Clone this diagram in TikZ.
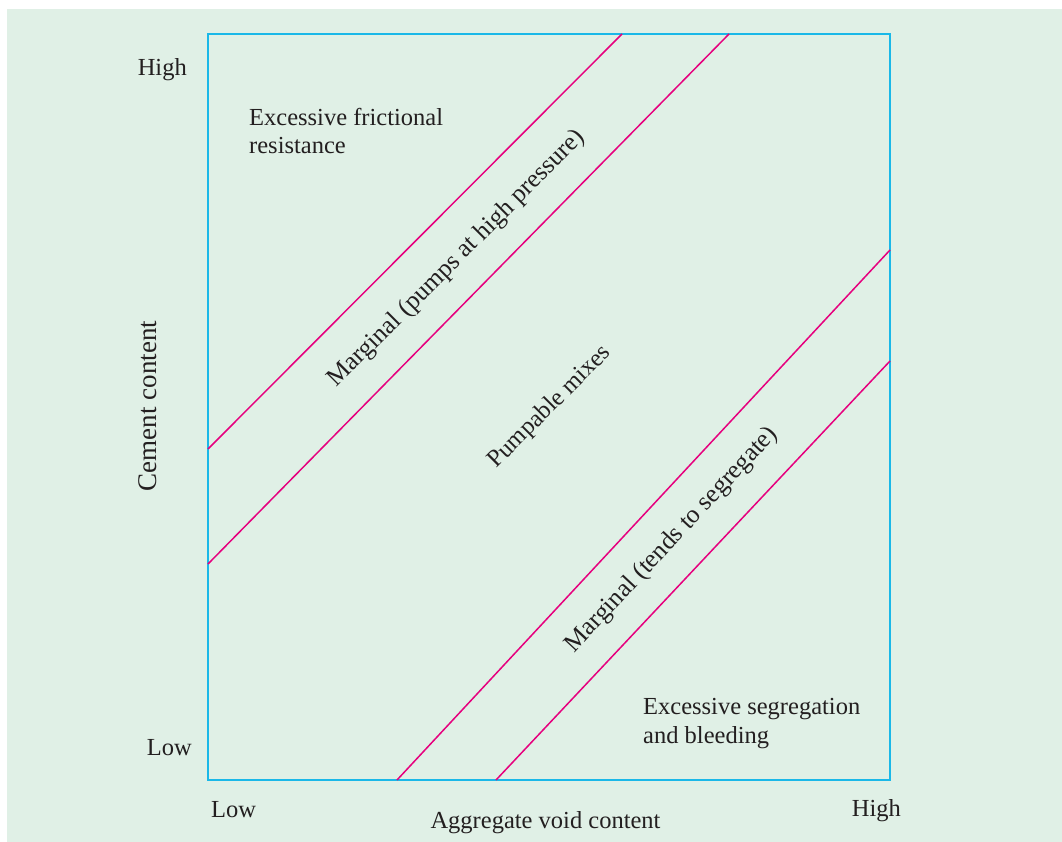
\documentclass[tikz,border=0pt]{standalone}
\usepackage{fontspec}
\setmainfont{Liberation Serif}
\definecolor{panel}{HTML}{E0F0E6}
\definecolor{frameblue}{HTML}{1AB8E8}
\definecolor{bandline}{HTML}{E6007E}
\definecolor{ink}{HTML}{231F20}
\begin{document}
\begin{tikzpicture}[x=1pt,y=-1pt,
  lbl/.style={inner sep=0pt,text=ink,font=\fontsize{24.5}{28.5}\selectfont},
  biglbl/.style={lbl,font=\fontsize{25.5}{29}\selectfont},
  boundary/.style={draw=bandline,line width=1.5pt},
  axisframe/.style={draw=frameblue,line width=2pt}]
\useasboundingbox (0,0) rectangle (1062,842);
\fill[panel] (7,9) rectangle (1062,842);
% plot frame
\draw[axisframe] (208,34) rectangle (890,780);
% band boundaries
\coordinate (a1) at (208,449); \coordinate (a2) at (622,34);
\coordinate (b1) at (208,564); \coordinate (b2) at (729,34);
\coordinate (c1) at (397,780); \coordinate (c2) at (890,250);
\coordinate (d1) at (496,780); \coordinate (d2) at (890,361);
\draw[boundary] (a1) -- (a2);
\draw[boundary] (b1) -- (b2);
\draw[boundary] (c1) -- (c2);
\draw[boundary] (d1) -- (d2);
% axis labels
\node[lbl,anchor=base east] (yhigh) at (187,76) {High};
\node[lbl,anchor=base east] (ylow) at (192,755) {Low};
\node[lbl,anchor=base west] (xlow) at (211,817) {Low};
\node[lbl,anchor=base east] (xhigh) at (901,816) {High};
\node[lbl,anchor=base] (xtitle) at (545.5,828) {Aggregate void content};
\node[lbl,anchor=base,rotate=90,font=\fontsize{27}{30}\selectfont] (ytitle) at (156,406) {Cement content};
% region labels (base anchor sits on the last line)
\node[lbl,anchor=base west,align=left] (fric) at (249,154) {Excessive frictional\\resistance};
\node[lbl,anchor=base west,align=left] (segr) at (643,743) {Excessive segregation\\and bleeding};
\node[biglbl,rotate=45] (marg1) at (457,259) {Marginal (pumps at high pressure)};
\node[lbl,rotate=45] (pump) at (550,407) {Pumpable mixes};
\node[biglbl,rotate=47] (marg2) at (672,540) {Marginal (tends to segregate)};
\end{tikzpicture}
\end{document}
